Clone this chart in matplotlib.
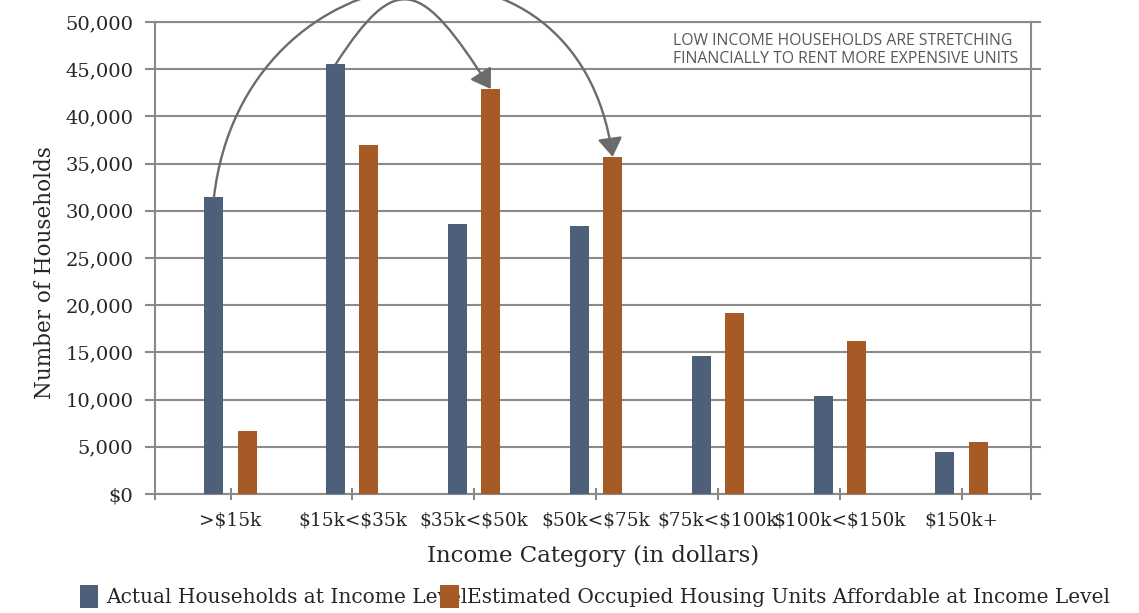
import matplotlib.pyplot as plt
import numpy as np
from matplotlib.ticker import FuncFormatter
from matplotlib.patches import FancyArrowPatch
from matplotlib.path import Path
from matplotlib.transforms import IdentityTransform

# chart data
categories = ['>$15k', '$15k<$35k', '$35k<$50k', '$50k<$75k',
              '$75k<$100k', '$100k<$150k', '$150k+']
actual_households = [31450, 45550, 28600, 28400, 14600, 10400, 4450]
affordable_units = [6650, 36950, 42900, 35700, 19150, 16200, 5500]
series_names = ['Actual Households at Income Level',
                'Estimated Occupied Housing Units Affordable at Income Level']
note_text = 'LOW INCOME HOUSEHOLDS ARE STRETCHING\nFINANCIALLY TO RENT MORE EXPENSIVE UNITS'

blue = '#4e6079'
orange = '#a65a25'
grid_col = '#8a8a8a'
txt_col = '#262626'
serif = 'DejaVu Serif'


def esc(s):
    # keep the dollar signs literal (no mathtext)
    return s.replace('$', r'\$')


fig = plt.figure(figsize=(11.39, 6.13), dpi=100)
ax = fig.add_axes([155 / 1139, 119 / 613, 876 / 1139, 472 / 613])

x = np.arange(len(categories))
off = 0.136
w = 0.156
b1 = ax.bar(x - off, actual_households, w, color=blue, zorder=3, label=series_names[0])
b2 = ax.bar(x + off, affordable_units, w, color=orange, zorder=3, label=series_names[1])

ax.set_xlim(-0.62, 6.57)
ax.set_ylim(0, 50000)
ax.set_yticks(np.arange(0, 50001, 5000))
ax.yaxis.set_major_formatter(FuncFormatter(lambda v, p: r'\$0' if v == 0 else f'{int(v):,}'))
ax.grid(axis='y', color=grid_col, lw=1.5, zorder=0)
ax.set_axisbelow(True)
for s in ax.spines.values():
    s.set_color(grid_col)
    s.set_linewidth(1.5)

ax.set_xticks(x)
ax.set_xticklabels([esc(c) for c in categories])
ax.set_xticks([-0.62, 6.57], minor=True)
ax.tick_params(axis='x', which='both', direction='inout', length=9, width=1.2,
               color='#707070', pad=8, labelsize=13.3, labelcolor=txt_col)
ax.tick_params(axis='y', direction='out', length=7.5, width=1.5, color=grid_col,
               left=True, right=True, pad=8, labelsize=14, labelcolor=txt_col)
for lab in ax.get_xticklabels() + ax.get_yticklabels():
    lab.set_family(serif)

ax.set_ylabel('Number of Households', fontsize=15.5, color=txt_col, family=serif)
ax.yaxis.set_label_coords(-0.113, 0.47)
ax.set_xlabel('Income Category (in dollars)', fontsize=16.5, color=txt_col,
              family=serif, labelpad=11)

ax.text(0.591, 0.976, note_text, transform=ax.transAxes, ha='left', va='top',
        fontsize=11.3, color='#595959', family='Open Sans', linespacing=1.1)


# curved arrows from low-income household bars to the units they rent
def curved_arrow(src, dst, c0, c1):
    p0 = ax.transData.transform(src)
    p3 = ax.transData.transform(dst)
    verts = [p0, p0 + np.array(c0), p3 + np.array(c1), p3]
    path = Path(verts, [Path.MOVETO, Path.CURVE4, Path.CURVE4, Path.CURVE4])
    arr = FancyArrowPatch(path=path, transform=IdentityTransform(),
                          arrowstyle='-|>,head_length=1.15,head_width=0.75',
                          mutation_scale=10, color='#6b6b6b', lw=1.7,
                          shrinkA=3.5, shrinkB=2, clip_on=False, zorder=5)
    fig.add_artist(arr)


curved_arrow((0 - off, actual_households[0]), (3 + off, affordable_units[3]),
             (30, 255), (-35, 252))
curved_arrow((1 - off, actual_households[1]), (2 + off, affordable_units[2]),
             (61, 94), (-70, 110))

leg = fig.legend(handles=[b1, b2], labels=series_names, loc='lower left',
                 bbox_to_anchor=(62 / 1139, -0.021),
                 ncol=2, frameon=False, handlelength=0.9, handleheight=1.35,
                 handletextpad=0.4, columnspacing=-1.35,
                 prop=dict(size=14.5, family=serif))
for t in leg.get_texts():
    t.set_color(txt_col)

fig.savefig('out.png', dpi=100)
